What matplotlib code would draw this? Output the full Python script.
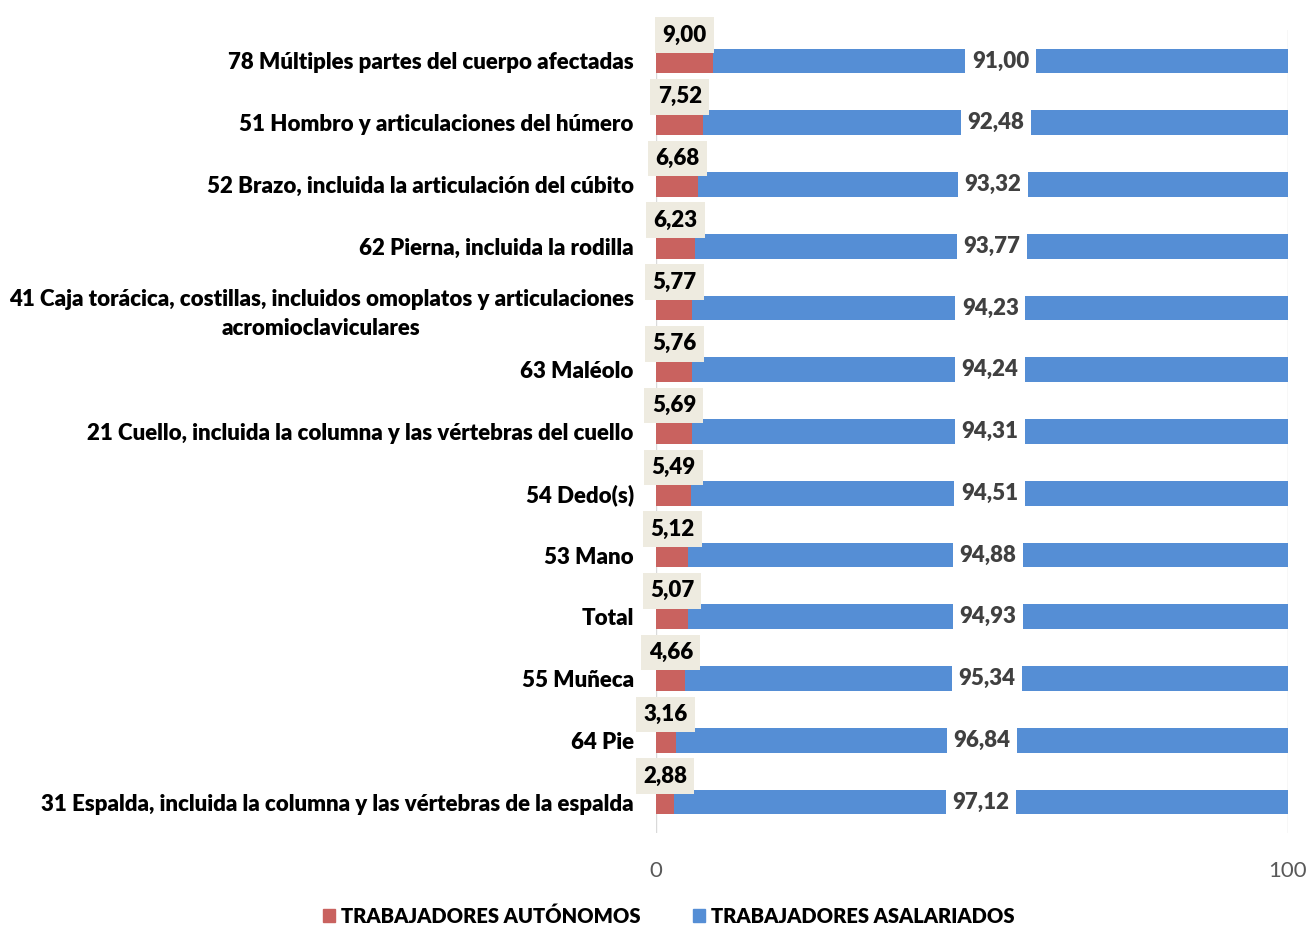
import matplotlib.pyplot as plt
from matplotlib.patches import Patch

plt.rcParams['font.family'] = ['Lato', 'DejaVu Sans']

categorias = [
    '78 Múltiples partes del cuerpo afectadas',
    '51 Hombro y articulaciones del húmero',
    '52 Brazo, incluida la articulación del cúbito',
    '62 Pierna, incluida la rodilla',
    '41 Caja torácica, costillas, incluidos omoplatos y articulaciones\nacromioclaviculares',
    '63 Maléolo',
    '21 Cuello, incluida la columna y las vértebras del cuello',
    '54 Dedo(s)',
    '53 Mano',
    'Total',
    '55 Muñeca',
    '64 Pie',
    '31 Espalda, incluida la columna y las vértebras de la espalda',
]
autonomos = [9.00, 7.52, 6.68, 6.23, 5.77, 5.76, 5.69, 5.49, 5.12, 5.07, 4.66, 3.16, 2.88]
asalariados = [91.00, 92.48, 93.32, 93.77, 94.23, 94.24, 94.31, 94.51, 94.88, 94.93, 95.34, 96.84, 97.12]

rojo = '#C9625F'
azul = '#558ED5'

def fmt(v):
    return f'{v:.2f}'.replace('.', ',')

fig = plt.figure(figsize=(13.08, 9.27), dpi=100)
ax = fig.add_axes([0.5015, 0.1014, 0.4832, 0.8662])

y = list(range(len(categorias)))
ax.barh(y, autonomos, height=0.4, color=rojo)
ax.barh(y, asalariados, left=autonomos, height=0.4, color=azul)

for i in y:
    a = autonomos[i]
    b = asalariados[i]
    ax.text(a / 2, i - 0.42, fmt(a), ha='center', va='center', fontsize=16,
            fontweight='heavy', color='black',
            bbox=dict(boxstyle='square,pad=0.33', fc='#EEEBE0', ec='none'))
    ax.text(a + b / 2, i, fmt(b), ha='center', va='center', fontsize=16,
            fontweight='heavy', color='#404040',
            bbox=dict(boxstyle='square,pad=0.3', fc='white', ec='none'))

ax.set_xlim(0, 100)
ax.set_ylim(len(categorias) - 0.5, -0.5)
ax.set_yticks(y)
ax.set_yticklabels(categorias, fontsize=16, fontweight='heavy', linespacing=1.5)
ax.set_xticks([0, 100])
ax.tick_params(axis='x', colors='#595959', labelsize=16, length=0, pad=20)
ax.tick_params(axis='y', length=0, pad=16)
for lbl in ax.get_yticklabels():
    lbl.set_multialignment('center')
for s in ax.spines.values():
    s.set_visible(False)
ax.grid(axis='x', color='#D9D9D9', linewidth=1)
ax.set_axisbelow(True)

handles = [Patch(color=rojo, label='TRABAJADORES AUTÓNOMOS'),
           Patch(color=azul, label='TRABAJADORES ASALARIADOS')]
leg = fig.legend(handles=handles, loc='center', bbox_to_anchor=(0.511, 0.012), ncol=2,
                 frameon=False, handlelength=0.6, handleheight=0.6, columnspacing=2.6,
                 handletextpad=0.3, prop={'weight': 'heavy', 'size': 14.5})

fig.savefig('out.png', dpi=100)
